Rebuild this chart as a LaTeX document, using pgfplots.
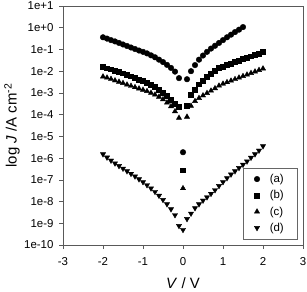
\documentclass[border=0pt]{standalone}
\usepackage{fontspec}
\setmainfont{Liberation Sans}
\usepackage{pgfplots}
\usepackage{pgfplotstable}
\pgfplotsset{compat=1.18}
% V (volts) and log10 of J (A cm^-2)
\pgfplotstableread{
V logJ
-2.0 -0.44
-1.9 -0.50
-1.8 -0.57
-1.7 -0.63
-1.6 -0.70
-1.5 -0.77
-1.4 -0.84
-1.3 -0.91
-1.2 -0.98
-1.1 -1.05
-1.0 -1.11
-0.9 -1.18
-0.8 -1.27
-0.7 -1.36
-0.6 -1.47
-0.5 -1.58
-0.4 -1.71
-0.3 -1.85
-0.2 -2.02
-0.1 -2.32
0.0 -5.73
0.1 -2.37
0.2 -2.00
0.3 -1.72
0.4 -1.47
0.5 -1.28
0.6 -1.11
0.7 -0.96
0.8 -0.83
0.9 -0.70
1.0 -0.57
1.1 -0.44
1.2 -0.32
1.3 -0.20
1.4 -0.09
1.5 0.03
}\dataA
\pgfplotstableread{
V logJ
-2.0 -1.80
-1.9 -1.86
-1.8 -1.91
-1.7 -1.97
-1.6 -2.03
-1.5 -2.09
-1.4 -2.16
-1.3 -2.23
-1.2 -2.30
-1.1 -2.38
-1.0 -2.45
-0.9 -2.53
-0.8 -2.62
-0.7 -2.72
-0.6 -2.84
-0.5 -2.98
-0.4 -3.13
-0.3 -3.30
-0.2 -3.50
-0.1 -3.62
0.0 -6.56
0.1 -3.58
0.2 -3.08
0.3 -2.85
0.4 -2.60
0.5 -2.42
0.6 -2.26
0.7 -2.11
0.8 -1.98
0.9 -1.85
1.0 -1.78
1.1 -1.71
1.2 -1.64
1.3 -1.57
1.4 -1.50
1.5 -1.43
1.6 -1.37
1.7 -1.31
1.8 -1.25
1.9 -1.18
2.0 -1.12
}\dataB
\pgfplotstableread{
V logJ
-2.0 -2.25
-1.9 -2.30
-1.8 -2.36
-1.7 -2.43
-1.6 -2.49
-1.5 -2.55
-1.4 -2.62
-1.3 -2.68
-1.2 -2.74
-1.1 -2.80
-1.0 -2.86
-0.9 -2.92
-0.8 -3.00
-0.7 -3.08
-0.6 -3.18
-0.5 -3.30
-0.4 -3.45
-0.3 -3.62
-0.2 -3.85
-0.1 -4.15
0.0 -7.39
0.1 -4.10
0.2 -3.60
0.3 -3.38
0.4 -3.24
0.5 -3.12
0.6 -3.01
0.7 -2.90
0.8 -2.79
0.9 -2.67
1.0 -2.58
1.1 -2.51
1.2 -2.44
1.3 -2.37
1.4 -2.30
1.5 -2.23
1.6 -2.16
1.7 -2.09
1.8 -2.02
1.9 -1.95
2.0 -1.88
}\dataC
\pgfplotstableread{
V logJ
-2.0 -5.82
-1.9 -5.97
-1.8 -6.11
-1.7 -6.24
-1.6 -6.36
-1.5 -6.48
-1.4 -6.60
-1.3 -6.72
-1.2 -6.84
-1.1 -6.97
-1.0 -7.10
-0.9 -7.24
-0.8 -7.39
-0.7 -7.55
-0.6 -7.73
-0.5 -7.92
-0.4 -8.12
-0.3 -8.35
-0.2 -8.62
-0.1 -9.12
0.0 -9.30
0.1 -8.80
0.2 -8.55
0.3 -8.30
0.4 -8.12
0.5 -7.95
0.6 -7.80
0.7 -7.64
0.8 -7.47
0.9 -7.28
1.0 -7.10
1.1 -6.92
1.2 -6.75
1.3 -6.60
1.4 -6.45
1.5 -6.30
1.6 -6.15
1.7 -5.98
1.8 -5.82
1.9 -5.65
2.0 -5.45
}\dataD
\begin{document}
\begin{tikzpicture}
\begin{axis}[
  name=main,
  scale only axis, width=240bp, height=239bp,
  xmin=-3, xmax=3, ymin=-10, ymax=1,
  xtick={-3,-2,-1,0,1,2,3},
  xticklabels={-3,-2,-1,0,1,2,3},
  ytick={-10,-9,-8,-7,-6,-5,-4,-3,-2,-1,0,1},
  yticklabels={1e-10,1e-9,1e-8,1e-7,1e-6,1e-5,1e-4,1e-3,1e-2,1e-1,1e+0,1e+1},
  tick align=outside, xtick pos=bottom, ytick pos=left,
  major tick length=4bp,
  axis line style={black!65, line width=0.6pt},
  every tick/.style={black!65, line width=0.6pt},
  tick label style={font=\fontsize{11.5}{13}\selectfont},
  yticklabel style={xshift=-2bp},
  xticklabel style={yshift=-5bp},
  xlabel={\textit{V} / V},
  ylabel={log \textit{J} /A cm\textsuperscript{-2}},
  label style={font=\fontsize{15}{17}\selectfont},
  xlabel style={at={(axis description cs:0.5,-0.159)}, anchor=center},
  ylabel style={at={(axis description cs:-0.2125,0.5)}, anchor=center},
  legend style={at={(1,0)}, anchor=south east, xshift=-6bp, yshift=6bp,
    draw=black!60, font=\fontsize{11.5}{13}\selectfont,
    row sep=2.5bp, column sep=8bp, inner xsep=11bp, inner ysep=4bp},
  legend cell align=left,
  only marks,
]
\addplot[mark=*, black, mark size=2.8bp] table[x=V, y=logJ] {\dataA};
\addlegendentry{(a)}
\addplot[mark=square*, black, mark size=2.4bp] table[x=V, y=logJ] {\dataB};
\addlegendentry{(b)}
\addplot[mark=triangle*, black, mark size=3bp] table[x=V, y=logJ] {\dataC};
\addlegendentry{(c)}
\addplot[mark=triangle*, black, mark size=3bp, mark options={rotate=180}] table[x=V, y=logJ] {\dataD};
\addlegendentry{(d)}
\end{axis}
\pgfresetboundingbox
\useasboundingbox ([xshift=-63bp,yshift=-46bp]main.south west) rectangle ([xshift=4bp,yshift=6bp]main.north east);
\end{tikzpicture}
\end{document}
